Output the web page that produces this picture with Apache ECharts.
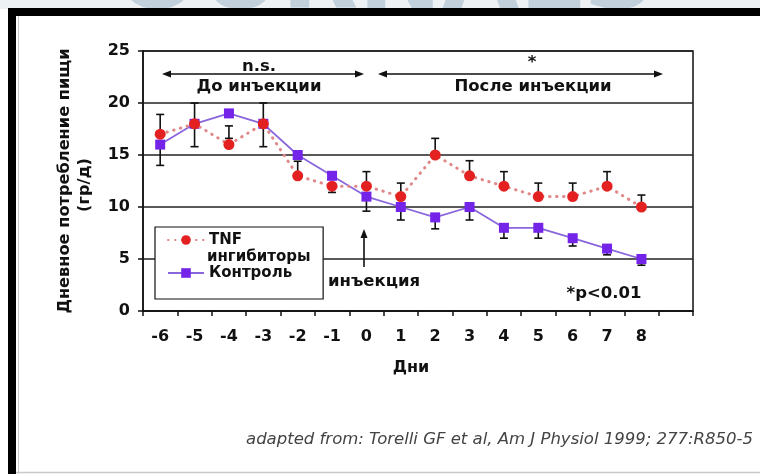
<!DOCTYPE html>
<html>
<head>
<meta charset="utf-8">
<script src="https://cdn.jsdelivr.net/npm/echarts@6/dist/echarts.min.js"></script>
<style>
html,body{margin:0;padding:0;background:#fff;}
#c{width:760px;height:474px;}
</style>
</head>
<body>
<div id="c"></div>
<script>
// ---- data ----
var days = ['-6','-5','-4','-3','-2','-1','0','1','2','3','4','5','6','7','8'];
var tnf  = [17, 18, 16, 18, 13, 12, 12, 11, 15, 13, 12, 11, 11, 12, 10];
var ctrl = [16, 18, 19, 18, 15, 13, 11, 10, 9, 10, 8, 8, 7, 6, 5];
var tnfErrLow   = [17, null, 16.6, null, 13, 11.4, 12, 11, 15, 13, 12, 11, 11, 12, 10];
var tnfErrHigh  = [18.9, null, 17.8, null, 14.4, 12, 13.4, 12.3, 16.6, 14.45, 13.4, 12.3, 12.3, 13.4, 11.15];
var ctrlErrLow  = [14, 15.8, null, 15.8, null, null, 9.6, 8.75, 7.9, 8.75, 7.0, 7.0, 6.25, 5.4, 4.4];
var ctrlErrHigh = [16, 20, null, 20, null, null, 11, 10, 9, 10, 8, 8, 7, 6, 5];
var yTicks = [0, 5, 10, 15, 20, 25];

var FONT = 'DejaVu Sans';

function errData(lo, hi) {
  var out = [];
  for (var i = 0; i < lo.length; i++) {
    if (lo[i] != null && hi[i] != null) out.push([i, lo[i], hi[i]]);
  }
  return out;
}
function renderErr(params, api) {
  var x = api.coord([api.value(0), 0])[0];
  var lo = api.coord([api.value(0), api.value(1)])[1];
  var hi = api.coord([api.value(0), api.value(2)])[1];
  var hw = 4;
  var st = {stroke: '#111', lineWidth: 1.6};
  return {type: 'group', children: [
    {type: 'line', shape: {x1: x, y1: lo, x2: x, y2: hi}, style: st},
    {type: 'line', shape: {x1: x - hw, y1: hi, x2: x + hw, y2: hi}, style: st},
    {type: 'line', shape: {x1: x - hw, y1: lo, x2: x + hw, y2: lo}, style: st}
  ]};
}

var chart = echarts.init(document.getElementById('c'), null, {renderer: 'canvas'});

function txt(x, y, s, opt) {
  opt = opt || {};
  return {type: 'text', x: x, y: y, rotation: opt.rotation || 0, z: 50,
    style: {text: s, fill: opt.color || '#111', font: (opt.italic ? 'italic ' : '') + (opt.weight || 'bold') + ' ' + (opt.size || 16.5) + 'px "' + FONT + '"',
      align: opt.align || 'center', verticalAlign: 'middle'}};
}
function hArrow(x1, x2, y) {
  var s = {fill: '#111'};
  return [
    {type: 'line', z: 50, shape: {x1: x1 + 4, y1: y, x2: x2 - 4, y2: y}, style: {stroke: '#111', lineWidth: 1.6}},
    {type: 'polygon', z: 50, shape: {points: [[x1, y], [x1 + 9, y - 3.5], [x1 + 9, y + 3.5]]}, style: s},
    {type: 'polygon', z: 50, shape: {points: [[x2, y], [x2 - 9, y - 3.5], [x2 - 9, y + 3.5]]}, style: s}
  ];
}

var graphics = [];
// top band with watermark (only its lower edge shows above the frame)
graphics.push({type: 'rect', z: 1, shape: {x: 0, y: 0, width: 760, height: 9}, style: {fill: '#eef1f4'}});
graphics.push({type: 'text', z: 2, x: 385, y: 32, style: {text: 'OURNALS', fill: '#c2d0db', font: 'bold 100px "' + FONT + '"', align: 'center', verticalAlign: 'bottom'}});
// frame
graphics.push({type: 'rect', z: 3, shape: {x: 8, y: 8, width: 752, height: 8}, style: {fill: '#000'}});
graphics.push({type: 'rect', z: 3, shape: {x: 8, y: 8, width: 8, height: 466}, style: {fill: '#000'}});
graphics.push({type: 'rect', z: 3, shape: {x: 16, y: 16, width: 744, height: 20}, style: {fill: '#fff'}});
graphics.push({type: 'line', z: 4, shape: {x1: 18.5, y1: 16, x2: 18.5, y2: 474}, style: {stroke: '#c8c8c8', lineWidth: 1}});
graphics.push({type: 'line', z: 4, shape: {x1: 16, y1: 472.5, x2: 760, y2: 472.5}, style: {stroke: '#c8c8c8', lineWidth: 1.5}});
// annotations
graphics.push(txt(259, 67, 'n.s.'));
graphics = graphics.concat(hArrow(162, 364, 74));
graphics.push(txt(259, 87, 'До инъекции'));
graphics.push(txt(532, 63, '*'));
graphics = graphics.concat(hArrow(378, 663, 74));
graphics.push(txt(533, 87, 'После инъекции'));
graphics.push({type: 'line', z: 50, shape: {x1: 364, y1: 267, x2: 364, y2: 236}, style: {stroke: '#111', lineWidth: 1.6}});
graphics.push({type: 'polygon', z: 50, shape: {points: [[364, 229], [360.5, 238], [367.5, 238]]}, style: {fill: '#111'}});
graphics.push(txt(374, 282, 'инъекция'));
graphics.push(txt(604, 294, '*p<0.01'));
graphics.push(txt(207, 257, 'ингибиторы', {align: 'left', size: 15}));
// axis titles
graphics.push(txt(411, 368, 'Дни', {size: 16}));
graphics.push(txt(65, 181, 'Дневное потребление пищи', {rotation: Math.PI / 2, size: 16.2}));
graphics.push(txt(85, 185, '(гр/д)', {rotation: Math.PI / 2, size: 16.2}));
// citation
graphics.push(txt(753, 440, 'adapted from: Torelli GF et al, Am J Physiol 1999; 277:R850-5', {align: 'right', italic: true, weight: 'normal', color: '#444', size: 16.5}));

var option = {
  animation: false,
  backgroundColor: '#fff',
  textStyle: {fontFamily: FONT},
  grid: {left: 143, top: 51, width: 550, height: 260, show: true, borderColor: '#111', borderWidth: 1.5, backgroundColor: '#fff'},
  legend: {
    orient: 'vertical', left: 155, top: 227,
    padding: [5, 31, 18, 12], itemGap: 17, itemWidth: 36, itemHeight: 12,
    borderColor: '#111', borderWidth: 1.2, backgroundColor: '#fff', borderRadius: 0,
    textStyle: {fontFamily: FONT, fontWeight: 'bold', fontSize: 15, color: '#111', lineHeight: 16},
    data: ['TNF', 'Контроль'], z: 20
  },
  xAxis: {
    type: 'category', data: days.concat(['']), boundaryGap: true,
    axisLine: {lineStyle: {color: '#111', width: 1.5}},
    axisTick: {show: true, length: 5, lineStyle: {color: '#111', width: 1.5}},
    axisLabel: {margin: 18, color: '#111', fontWeight: 'bold', fontSize: 16, fontFamily: FONT, interval: 0},
    splitLine: {show: false}
  },
  yAxis: {
    type: 'value', min: yTicks[0], max: yTicks[yTicks.length - 1], interval: 5,
    axisLine: {show: true, lineStyle: {color: '#111', width: 1.5}},
    axisTick: {show: true, length: 5, lineStyle: {color: '#111', width: 1.5}},
    axisLabel: {margin: 13, color: '#111', fontWeight: 'bold', fontSize: 16, fontFamily: FONT},
    splitLine: {show: true, lineStyle: {color: '#222', width: 1.5}}
  },
  series: [
    {type: 'custom', name: 'errTNF', z: 1, renderItem: renderErr, data: errData(tnfErrLow, tnfErrHigh), encode: {x: 0, y: [1, 2]}, silent: true},
    {type: 'custom', name: 'errCtrl', z: 1, renderItem: renderErr, data: errData(ctrlErrLow, ctrlErrHigh), encode: {x: 0, y: [1, 2]}, silent: true},
    {type: 'line', name: 'Контроль', data: ctrl, z: 3, symbol: 'rect', symbolSize: 10,
      itemStyle: {color: '#7424e8'}, lineStyle: {color: '#8a66dc', width: 1.8}},
    {type: 'line', name: 'TNF', data: tnf, z: 4, symbol: 'circle', symbolSize: 11,
      itemStyle: {color: '#e42121'}, lineStyle: {color: '#e08888', width: 3, type: [0.5, 6.5], cap: 'round'}}
  ],
  graphic: graphics
};
chart.setOption(option);
</script>
</body>
</html>
